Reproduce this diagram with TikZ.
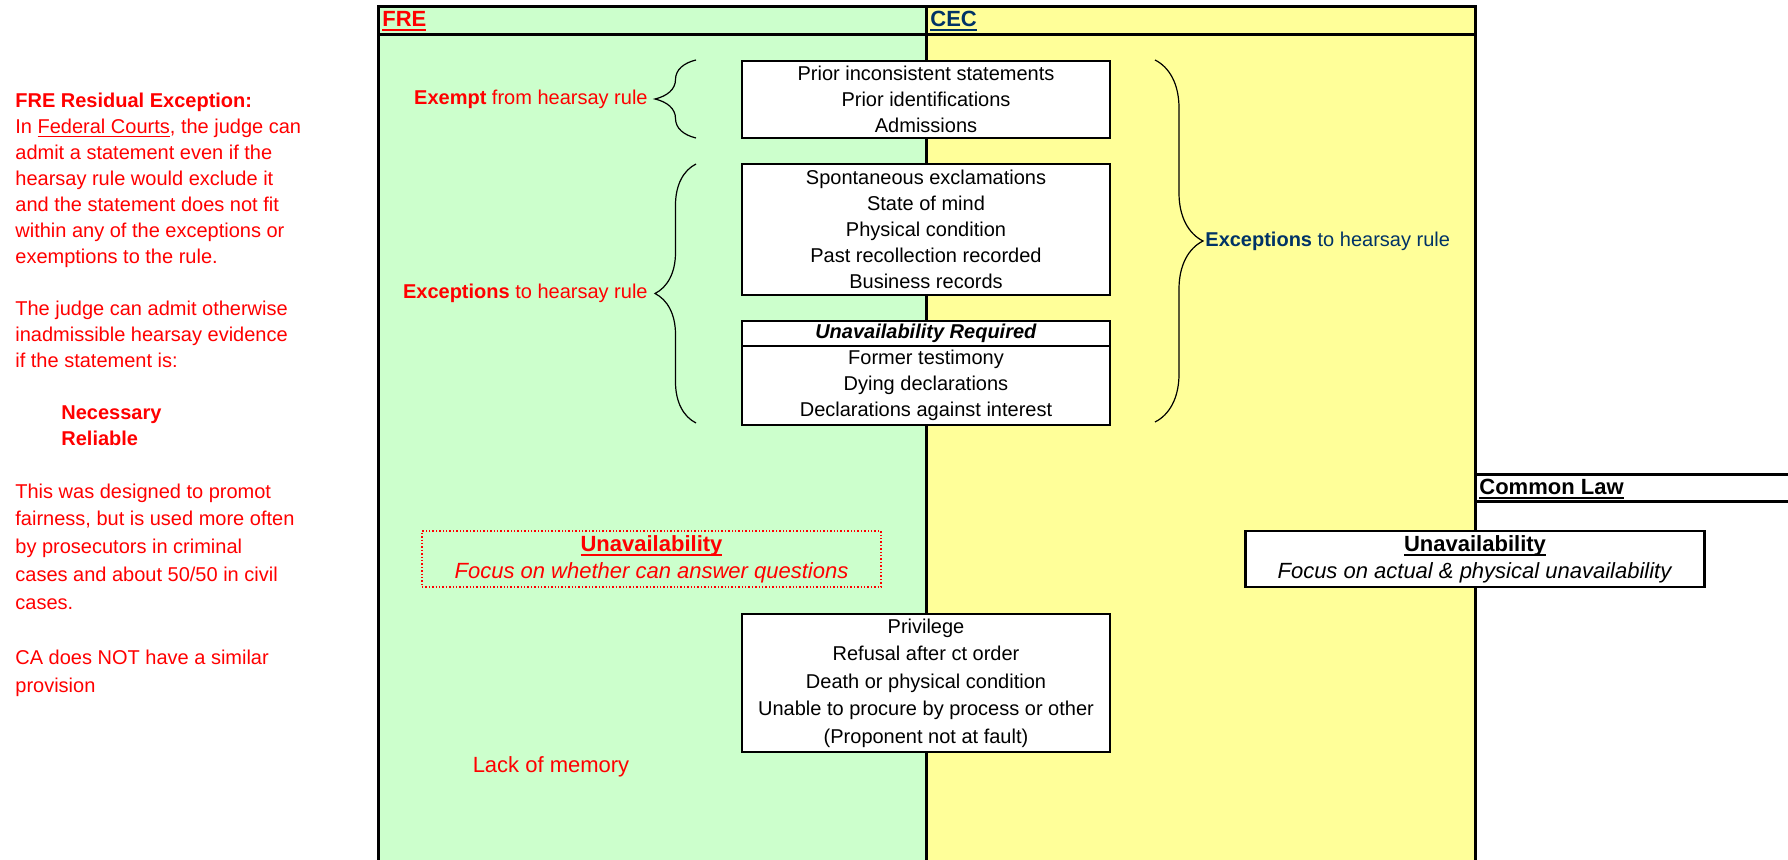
\documentclass[tikz,border=0pt]{standalone}
\usepackage{fontspec}
\setmainfont{Liberation Sans}
\usetikzlibrary{decorations.pathreplacing}
\definecolor{fregreen}{HTML}{CCFFCC}
\definecolor{cecyellow}{HTML}{FFFF99}
\definecolor{cecblue}{HTML}{003366}
\newcommand{\hdrul}[1]{\setbox0\hbox{#1}\rlap{\rule[-2.2pt]{\wd0}{1pt}}\box0}
\tikzset{
  panel/.style={line width=1.5pt},
  hdr/.style={anchor=west, inner sep=0pt, font=\fontsize{11}{13}\selectfont\bfseries},
  listbox/.style={draw, line width=1.2pt, fill=white, minimum width=184pt, inner sep=0pt, align=center, font=\fontsize{10}{13}\selectfont},
  unavbox/.style={minimum width=229.5pt, minimum height=28pt, inner sep=0pt, align=center, font=\fontsize{11}{13.5}\selectfont},
  rulebrace/.style={decorate, decoration={brace, amplitude=#1}, line width=0.6pt},
  bracelabel/.style={inner sep=0pt, font=\fontsize{10}{13}\selectfont},
  note/.style={anchor=west, inner sep=0pt, align=left, text=red},
}
\begin{document}
\begin{tikzpicture}[x=0.5pt, y=-0.5pt]
\useasboundingbox (0,0) rectangle (1788,860);
% columns
\fill[fregreen] (378,7) rectangle (926,860);
\fill[cecyellow] (926,7) rectangle (1475,860);
\draw[panel] (378,860) -- (378,7) -- (1475,7) -- (1475,860);
\draw[panel] (378,35) -- (1475,35);
\draw[panel] (926,7) -- (926,860);
\draw[panel] (1475,475) -- (1788,475);
\draw[panel] (1475,502) -- (1788,502);
\node[hdr, red] (frehdr) at (382,21) {\hdrul{FRE}};
\node[hdr, cecblue] (cechdr) at (930,21) {\hdrul{CEC}};
\node[hdr] (clhdr) at (1479,489) {\hdrul{Common Law}};

% left notes
\node[note, font=\fontsize{10}{13}\selectfont] (residual) at (15,269) {%
\textbf{FRE Residual Exception:}\\
In \underline{Federal Courts}, the judge can\\
admit a statement even if the\\
hearsay rule would exclude it\\
and the statement does not fit\\
within any of the exceptions or\\
exemptions to the rule.\\
~\\
The judge can admit otherwise\\
inadmissible hearsay evidence\\
if the statement is:\\
~\\
\hspace*{23pt}\textbf{Necessary}\\
\hspace*{23pt}\textbf{Reliable}};
\node[note, font=\fontsize{10}{13.875}\selectfont] (fairness) at (15,590) {%
This was designed to promot\\
fairness, but is used more often\\
by prosecutors in criminal\\
cases and about 50/50 in civil\\
cases.\\
~\\
CA does NOT have a similar\\
provision};

% lists
\node[listbox, minimum height=38.5pt] (exempt) at (926,99.5) {Prior inconsistent statements\\Prior identifications\\Admissions};
\node[listbox, minimum height=65.5pt] (spont) at (926,229.5) {Spontaneous exclamations\\State of mind\\Physical condition\\Past recollection recorded\\Business records};
\node[listbox, minimum height=12.5pt] (reqhdr) at (926,333.5) {\textbf{\textit{Unavailability Required}}};
\node[listbox, minimum height=39.5pt] (unavreq) at (926,385.5) {Former testimony\\Dying declarations\\Declarations against interest};
\node[listbox, minimum height=69pt, font=\fontsize{10}{13.75}\selectfont] (grounds) at (926,683) {Privilege\\Refusal after ct order\\Death or physical condition\\Unable to procure by process or other\\(Proponent not at fault)};

% unavailability
\node[unavbox, draw=red, densely dotted, line width=0.7pt, text=red] (freunav) at (651.5,559) {\hdrul{\textbf{Unavailability}}\\\textit{Focus on whether can answer questions}};
\node[unavbox, draw, line width=1.2pt, fill=white] (clunav) at (1475,559) {\hdrul{\textbf{Unavailability}}\\\textit{Focus on actual \& physical unavailability}};
\node[bracelabel, text=red, font=\fontsize{11}{13}\selectfont] (memory) at (551,767) {Lack of memory};

% braces
\coordinate (exemptlo) at (696,138);
\coordinate (exemptup) at (696,60);
\coordinate (exceptlo) at (696,423);
\coordinate (exceptup) at (696,164);
\coordinate (cecup) at (1155,60);
\coordinate (ceclo) at (1155,422);
\draw[rulebrace=20.5pt] (exemptlo) -- (exemptup);
\draw[rulebrace=20.5pt] (exceptlo) -- (exceptup);
\draw[rulebrace=24pt] (cecup) -- (ceclo);
\node[bracelabel, anchor=east, text=red] (exemptlbl) at (648,99) {\textbf{Exempt} from hearsay rule};
\node[bracelabel, anchor=east, text=red] (exceptlbl) at (648,293) {\textbf{Exceptions} to hearsay rule};
\node[bracelabel, anchor=west, text=cecblue] (ceclbl) at (1205,241) {\textbf{Exceptions} to hearsay rule};
\end{tikzpicture}
\end{document}
